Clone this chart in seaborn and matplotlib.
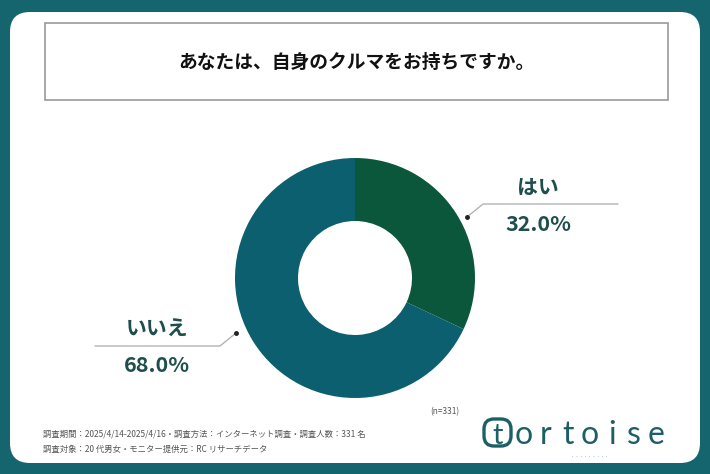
import numpy as np
import seaborn as sns
import matplotlib.pyplot as plt
from matplotlib.patches import FancyBboxPatch, Rectangle

# データ
labels = ["はい", "いいえ"]
shares = [32.0, 68.0]
title = "あなたは、自身のクルマをお持ちですか。"
n_note = "(n=331)"
footer_1 = "調査期間：2025/4/14-2025/4/16・調査方法：インターネット調査・調査人数：331 名"
footer_2 = "調査対象：20 代男女・モニター提供元：RC リサーチデータ"

sns.set_theme(style="white")
plt.rcParams['font.family'] = ['Noto Sans CJK JP', 'DejaVu Sans']

teal_bg = "#14656e"
colors = ["#0a573c", "#0c5f6e"]
label_color = "#1f4f4c"

fig = plt.figure(figsize=(7.1, 4.74), dpi=100)
fig.patch.set_facecolor(teal_bg)

# 背景（ピクセル座標）
bg = fig.add_axes([0, 0, 1, 1])
bg.set_xlim(0, 710)
bg.set_ylim(474, 0)
bg.axis("off")
bg.add_patch(FancyBboxPatch((10, 12), 690, 451, boxstyle="round,pad=0,rounding_size=20",
                            fc="white", ec="none"))
bg.add_patch(Rectangle((45, 23), 623, 77, fc="white", ec="#9a9a9a", lw=1.2))
bg.text(356, 62, title, ha="center", va="center", fontsize=13.5, fontweight="bold", color="#111111")

# ドーナツ
cx, cy, R = 355, 278, 120
pie_ax = fig.add_axes([(cx - R) / 710, (474 - cy - R) / 474, 2 * R / 710, 2 * R / 474])
pie_ax.pie(shares, colors=colors, startangle=90, counterclock=False,
           wedgeprops=dict(width=0.525, edgecolor="none"))
pie_ax.set_aspect("auto")
pie_ax.set_xlim(-1, 1)
pie_ax.set_ylim(-1, 1)
pie_ax.axis("off")

# ラベルと引き出し線
leaders = [
    # dot, elbow, end, text x
    ((467, 217), (483, 204), (618, 204), 538),
    ((236, 333), (220, 346), (95, 346), 157),
]
for (dot, elbow, end, tx), lab, val in zip(leaders, labels, shares):
    bg.plot([dot[0], elbow[0], end[0]], [dot[1], elbow[1], end[1]], color="#b0b4b6", lw=1.0)
    bg.plot([dot[0]], [dot[1]], "o", color="#222222", ms=2.5)
    bg.text(tx, elbow[1] - 17, lab, ha="center", va="center", fontsize=15,
            fontweight="bold", color=label_color)
    bg.text(tx, elbow[1] + 20, f"{val:.1f}%", ha="center", va="center", fontsize=15.5,
            fontweight="bold", color=label_color)

bg.text(445, 412, n_note, ha="center", va="center", fontsize=6, color="#555555")
bg.text(43, 434, footer_1, ha="left", va="center", fontsize=6.0, color="#555555")
bg.text(43, 449, footer_2, ha="left", va="center", fontsize=6.0, color="#555555")

# ロゴ
logo_color = "#1d5f66"
bg.add_patch(FancyBboxPatch((484, 419), 27, 27, boxstyle="round,pad=0,rounding_size=10",
                            fc="none", ec=logo_color, lw=2.4))
bg.text(498, 436, "t", ha="center", va="center", fontsize=21, color=logo_color,
        family=["Lato", "DejaVu Sans"])
for i, ch in enumerate("ortoise"):
    bg.text(524 + 22 * i, 444, ch, ha="center", va="baseline", fontsize=23, color=logo_color,
            family=["Lato", "DejaVu Sans"])
bg.text(590, 457, "・ ・ ・ ・ ・ ・ ・ ・ ・", ha="center", va="center", fontsize=2.5, color=logo_color)

fig.savefig("out.png", dpi=100, facecolor=teal_bg)
